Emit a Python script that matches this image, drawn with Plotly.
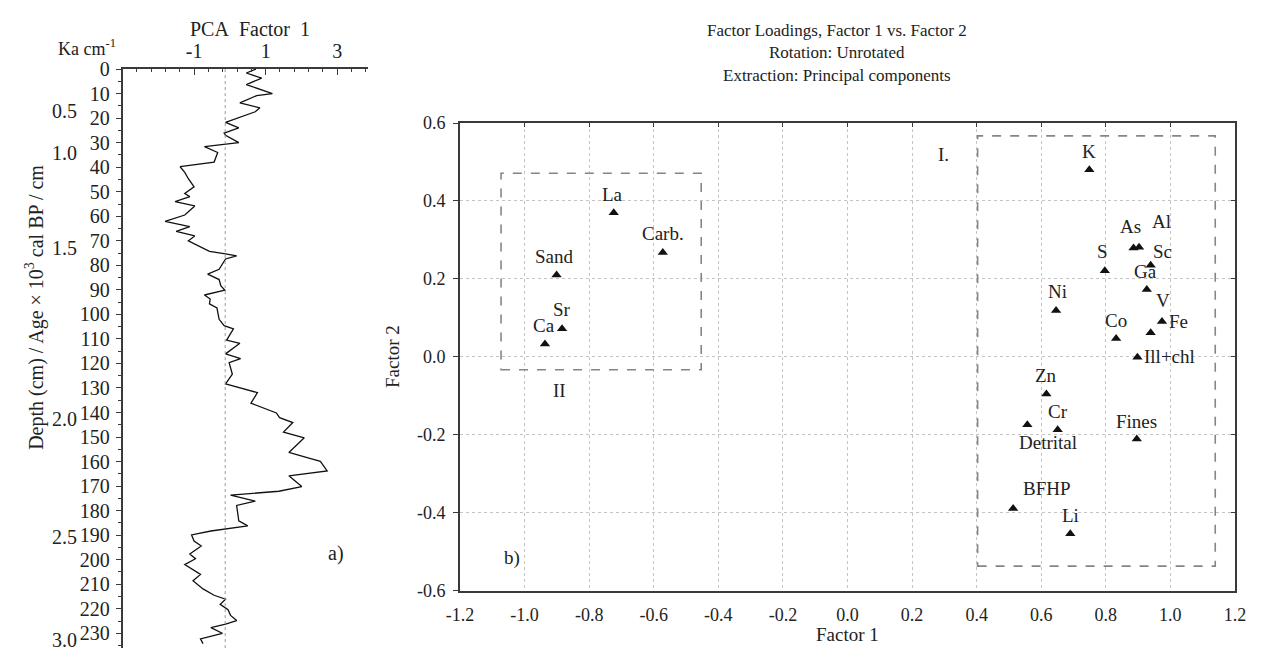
import plotly.graph_objects as go

# ---------------- data ----------------
# a) PCA factor 1 depth profile
depth = [0, 1.6, 3.7, 6.3, 10.0, 10.8, 13.8, 15.8, 17.4, 19.1, 21.7, 24.0, 26.1, 27.0, 30.0,
         31.6, 34.0, 37.9, 39.8, 42.1, 44.7, 48.0, 50.7, 52.0, 54.0, 55.8, 59.5, 62.1, 64.2,
         66.2, 68.0, 70.0, 74.3, 75.3, 76.1, 77.4, 81.6, 83.6, 85.8, 88.4, 90.1, 92.1, 93.7,
         95.7, 97.4, 102.0, 104.6, 105.9, 110.5, 111.8, 116.1, 118.0, 119.7, 124.4, 128.3,
         131.9, 136.2, 140.2, 142.1, 144.1, 148.0, 150.3, 156.3, 158.6, 159.9, 163.8, 165.8,
         170.2, 172.1, 173.7, 176.1, 177.9, 184.2, 186.2, 187.5, 188.3, 189.9, 192.4, 194.4,
         197.7, 199.6, 202.0, 206.0, 208.6, 211.9, 214.5, 216.1, 218.2, 220.4, 222.7, 224.8,
         226.3, 227.7, 230.0, 232.3, 234.2]
pca_f1 = [0.73, 0.46, 0.89, 0.46, 1.19, 0.75, 0.28, 0.84, 0.71, 0.39, -0.12, 0.25, -0.16, -0.12,
          0.25, -0.71, -0.34, -0.44, -1.39, -1.26, -1.16, -1.0, -1.26, -1.12, -1.53, -0.98,
          -1.26, -1.81, -1.12, -1.5, -0.98, -1.16, -0.57, -0.12, 0.19, -0.12, -0.3, -0.62, -0.3,
          -0.25, -0.14, -0.71, -0.55, -0.57, -0.36, -0.3, -0.16, 0.1, -0.09, 0.28, -0.12, 0.3,
          -0.02, 0.07, -0.12, 0.77, 0.59, 1.3, 1.39, 1.76, 1.5, 2.08, 1.65, 2.21, 2.53, 2.72,
          1.65, 2.01, 1.37, 0.02, 0.71, 0.19, 0.25, 0.5, -0.12, -0.53, -1.07, -1.0, -0.8, -1.12,
          -0.96, -1.26, -0.82, -1.03, -0.75, -0.44, -0.12, -0.27, -0.05, 0.02, 0.19, -0.12,
          -0.53, -0.21, -0.82, -0.75]
mean_line = -0.13
depth_ticks = list(range(0, 240, 10))
f1_ticks = [-1, 1, 3]
f1_ticktext = ["-1", "1", "3"]
age_labels = ["0.5", "1.0", "1.5", "2.0", "2.5", "3.0"]
age_depth = [17.1, 34.2, 73.0, 142.5, 190.8, 232.6]

# b) factor loadings
names = ["La", "Carb.", "Sand", "Sr", "Ca", "K", "As", "Al", "Sc", "Ga", "S", "Ni", "V", "Fe",
         "Co", "Ill+chl", "Zn", "Cr", "Detrital", "Fines", "BFHP", "Li"]
factor1 = [-0.724, -0.572, -0.901, -0.884, -0.937, 0.749, 0.886, 0.903, 0.939, 0.927, 0.797,
           0.646, 0.939, 0.974, 0.832, 0.898, 0.616, 0.651, 0.557, 0.896, 0.513, 0.690]
factor2 = [0.370, 0.268, 0.210, 0.072, 0.033, 0.480, 0.279, 0.281, 0.235, 0.173, 0.221,
           0.119, 0.062, 0.091, 0.047, -0.001, -0.095, -0.187, -0.174, -0.211, -0.389, -0.454]
x_ticks = [-1.2, -1.0, -0.8, -0.6, -0.4, -0.2, 0.0, 0.2, 0.4, 0.6, 0.8, 1.0, 1.2]
x_ticktext = ["-1.2", "-1.0", "-0.8", "-0.6", "-0.4", "-0.2", "0.0", "0.2", "0.4", "0.6",
              "0.8", "1.0", "1.2"]
y_ticks = [-0.6, -0.4, -0.2, 0.0, 0.2, 0.4, 0.6]
y_ticktext = ["-0.6", "-0.4", "-0.2", "0.0", "0.2", "0.4", "0.6"]
group2_box = [-1.073, -0.453, -0.033, 0.471]
group1_box = [0.403, 1.139, -0.537, 0.567]

# label offsets (pixels) - styling only
label_style = {
    "La": (-1, 18, "center"), "Carb.": (0, 19, "center"), "Sand": (-2, 19, "center"),
    "Sr": (0, 19, "center"), "Ca": (-1, 18, "center"), "K": (0, 18, "center"),
    "As": (-3, 22, "center"), "Al": (22, 26, "center"), "Sc": (0, 14, "left"),
    "Ga": (-1, 18, "center"), "S": (-2, 19, "center"), "Ni": (1, 19, "center"),
    "V": (12, 32, "center"), "Fe": (5, 0, "left"), "Co": (0, 18, "center"),
    "Ill+chl": (5, 1, "left"), "Zn": (0, 18, "center"), "Cr": (0, 18, "center"),
    "Detrital": (21, -18, "center"), "Fines": (0, 18, "center"), "BFHP": (34, 20, "center"),
    "Li": (0, 18, "center"),
}

W, H = 1268, 658
FONT = "Liberation Serif"
TXT = "#222222"
AX = "#3a3a3a"


def px(x):
    return x / W


def py(y):
    return 1 - y / H


fig = go.Figure()

# ---- a) profile ----
fig.add_trace(go.Scatter(x=pca_f1, y=depth, mode="lines",
                         line=dict(color="#111111", width=1.3),
                         xaxis="x", yaxis="y", showlegend=False, hoverinfo="skip"))
fig.add_trace(go.Scatter(x=[mean_line, mean_line], y=[0, 236], mode="lines",
                         line=dict(color="#999999", width=1, dash="dot"),
                         xaxis="x", yaxis="y", showlegend=False, hoverinfo="skip"))

# ---- b) loadings ----
fig.add_trace(go.Scatter(x=factor1, y=factor2, mode="markers",
                         marker=dict(symbol="triangle-up", size=9, color="#111111"),
                         xaxis="x2", yaxis="y2", showlegend=False))

annotations = []
for n, fx, fy in zip(names, factor1, factor2):
    dx, dy, anc = label_style[n]
    annotations.append(dict(x=fx, y=fy, xref="x2", yref="y2", text=n, showarrow=False,
                            xshift=dx, yshift=dy, xanchor=anc, yanchor="middle",
                            font=dict(family=FONT, size=19, color=TXT)))

shapes = []
for (x0, x1, y0, y1) in [group2_box, group1_box]:
    shapes.append(dict(type="rect", xref="x2", yref="y2", x0=x0, x1=x1, y0=y0, y1=y1,
                       line=dict(color="#858585", width=1.6, dash="dash")))


def ann(text, x, y, size=16, **kw):
    d = dict(text=text, x=px(x), y=py(y), xref="paper", yref="paper", showarrow=False,
             xanchor="center", yanchor="middle", borderpad=0,
             font=dict(family=FONT, size=size, color=TXT))
    d.update(kw)
    annotations.append(d)


ann("PCA\u00a0\u00a0Factor\u00a0\u00a01", 241, 19, 20)
ann("Ka cm<sup>-1</sup>", 74, 38, 18)
ann("Depth (cm) / Age × 10<sup>3</sup> cal BP / cm", 21, 306, 20, textangle=-90)
ann("a)", 328, 560, 20)
for lab, d in zip(age_labels, age_depth):
    annotations.append(dict(text=lab, x=px(52), y=d, xref="paper", yref="y", showarrow=False,
                            xanchor="center", yanchor="middle",
                            font=dict(family=FONT, size=20, color=TXT)))

ann("Factor Loadings, Factor 1 vs. Factor 2", 840, 20, 17)
ann("Rotation: Unrotated", 840, 43, 17)
ann("Extraction: Principal components", 840, 67, 17)
ann("Factor 1", 850, 644, 19)
ann("Factor 2", 386, 357, 19, textangle=-90)
ann("I.", 948, 148, 19)
ann("II", 556, 392, 19)
ann("b)", 508, 565, 19)

tickfont_a = dict(family=FONT, size=20, color=TXT)
tickfont_b = dict(family=FONT, size=18, color=TXT)

fig.update_layout(
    width=W, height=H,
    margin=dict(l=0, r=0, t=0, b=0),
    paper_bgcolor="white", plot_bgcolor="white",
    showlegend=False,
    annotations=annotations,
    shapes=shapes,
    xaxis=dict(domain=[px(110.7), px(360.7)], range=[-3, 3.85], side="top", anchor="y",
               tickmode="array", tickvals=f1_ticks, ticktext=f1_ticktext,
               ticks="inside", ticklen=6, tickwidth=1.3, tickcolor=AX,
               minor=dict(tickmode="linear", tick0=-3, dtick=0.4, ticks="inside",
                          ticklen=3, tickwidth=1, tickcolor=AX),
               showline=True, linecolor=AX, linewidth=1.5, showgrid=False, zeroline=False,
               tickfont=tickfont_a, ticklabelstandoff=1),
    yaxis=dict(domain=[0, py(60)], range=[236, 0], anchor="x",
               tickmode="array", tickvals=depth_ticks, ticks="outside", ticklen=5,
               tickwidth=1.3, tickcolor=AX,
               minor=dict(tickmode="linear", tick0=0, dtick=5, ticks="outside",
                          ticklen=3, tickwidth=1, tickcolor=AX),
               showline=True, linecolor=AX, linewidth=1.5, showgrid=False, zeroline=False,
               tickfont=tickfont_a, ticklabelstandoff=2),
    xaxis2=dict(domain=[px(455), px(1245.5)], range=[-1.2, 1.2], anchor="y2",
                tickmode="array", tickvals=x_ticks, ticktext=x_ticktext,
                ticks="", showline=True, mirror=True, linecolor=AX, linewidth=2,
                showgrid=True, gridcolor="#c4c4c4", griddash="dot", gridwidth=1,
                zeroline=False, tickfont=tickfont_b, ticklabelstandoff=7),
    yaxis2=dict(domain=[py(598.8), py(115.7)], range=[-0.6, 0.6], anchor="x2",
                tickmode="array", tickvals=y_ticks, ticktext=y_ticktext,
                ticks="outside", ticklen=5, tickwidth=1.3, tickcolor=AX,
                showline=True, mirror=True, linecolor=AX, linewidth=2,
                showgrid=True, gridcolor="#c4c4c4", griddash="dot", gridwidth=1,
                zeroline=False, tickfont=tickfont_b, ticklabelstandoff=4),
    xaxis3=dict(domain=[px(455), px(1245.5)], range=[-1.2, 1.2], anchor="y2", overlaying="x2",
                side="top", tickmode="array", tickvals=x_ticks, ticks="inside",
                ticklen=4, tickwidth=1.3, tickcolor=AX, showticklabels=False,
                showgrid=False, zeroline=False, showline=False),
    yaxis3=dict(domain=[py(598.8), py(115.7)], range=[-0.6, 0.6], anchor="x2",
                overlaying="y2", side="right", tickmode="array", tickvals=y_ticks,
                ticks="inside", ticklen=4, tickwidth=1.3, tickcolor=AX,
                showticklabels=False, showgrid=False, zeroline=False, showline=False),
)

# empty traces to activate the overlay axes
fig.add_trace(go.Scatter(x=[None], y=[None], xaxis="x3", yaxis="y2", showlegend=False,
                         hoverinfo="skip"))
fig.add_trace(go.Scatter(x=[None], y=[None], xaxis="x2", yaxis="y3", showlegend=False,
                         hoverinfo="skip"))

fig.write_html(
    "out.html",
    post_script=(
        "document.body.style.margin='0';"
        "document.body.style.overflow='hidden';"
    ),
)
